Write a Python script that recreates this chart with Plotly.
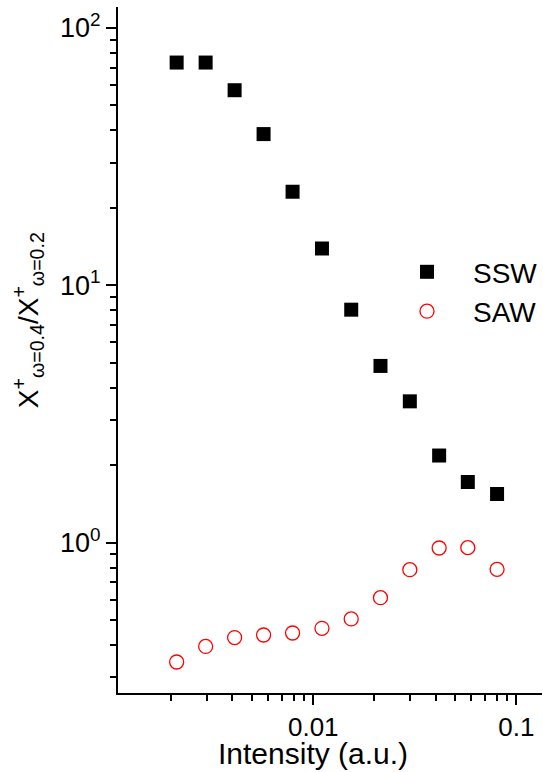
import plotly.graph_objects as go

# Data
intensity = [0.002126, 0.002953, 0.004101, 0.005695, 0.007912, 0.01104,
             0.01538, 0.02143, 0.02989, 0.04167, 0.05767, 0.08035]
ssw = [73.4, 73.4, 57.3, 38.7, 23.1, 13.9, 8.04, 4.86, 3.54, 2.18, 1.72, 1.545]
saw = [0.3435, 0.395, 0.4275, 0.4375, 0.4453, 0.4645, 0.505, 0.611, 0.785,
       0.953, 0.956, 0.787]

y_tickvals = [1, 10, 100]
y_ticktext = ["10<sup>0</sup>", "10<sup>1</sup>", "10<sup>2</sup>"]
x_tickvals = [0.01, 0.1]
x_ticktext = ["0.01", "0.1"]
y_title = "X<sup>+</sup><sub>ω=0.4</sub>/X<sup>+</sup><sub>ω=0.2</sub>"
x_title = "Intensity (a.u.)"

FONT = "Liberation Sans, Arial, sans-serif"

fig = go.Figure()
fig.add_trace(go.Scatter(
    x=intensity, y=ssw, mode="markers", name="SSW",
    marker=dict(symbol="square", size=14, color="black", line=dict(width=0)),
))
fig.add_trace(go.Scatter(
    x=intensity, y=saw, mode="markers", name="SAW",
    marker=dict(symbol="circle-open", size=14, color="red", line=dict(width=1.3, color="red")),
))

axis_common = dict(
    showline=True, linewidth=2, linecolor="black", mirror=False,
    ticks="outside", ticklen=10, tickwidth=2, tickcolor="black",
    showgrid=False, zeroline=False,
    minor=dict(ticks="outside", ticklen=6, tickwidth=2, tickcolor="black",
               showgrid=False, dtick="D1"),
)

fig.update_layout(
    width=543, height=772,
    margin=dict(l=118, r=0, t=7, b=79),
    paper_bgcolor="white", plot_bgcolor="white",
    font=dict(family=FONT, color="black"),
    showlegend=True,
    legend=dict(
        x=0.62, y=0.650, xanchor="left", yanchor="top",
        font=dict(family=FONT, size=28, color="black"),
        bgcolor="rgba(0,0,0,0)", itemwidth=82,
    ),
    xaxis=dict(
        type="log", range=[-2.9612, -0.8738],
        tickmode="array", tickvals=x_tickvals, ticktext=x_ticktext,
        tickfont=dict(family=FONT, size=26, color="black"),
        **axis_common,
    ),
    yaxis=dict(
        type="log", range=[-0.5845, 2.0816],
        tickmode="array", tickvals=y_tickvals, ticktext=y_ticktext,
        tickfont=dict(family=FONT, size=27, color="black"),
        **axis_common,
    ),
    annotations=[
        dict(
            text=y_title, textangle=-90, showarrow=False,
            xref="paper", yref="paper", x=-0.2118, y=0.5437,
            xanchor="center", yanchor="middle",
            font=dict(family=FONT, size=28, color="black"),
        ),
        dict(
            text=x_title, showarrow=False,
            xref="paper", yref="paper", x=0.4588, y=-0.0885,
            xanchor="center", yanchor="middle",
            font=dict(family=FONT, size=30, color="black"),
        ),
    ],
)

fig.write_html(
    "out.html",
    config={"displayModeBar": False},
    post_script="document.body.style.margin='0';document.body.style.overflow='hidden';",
)
